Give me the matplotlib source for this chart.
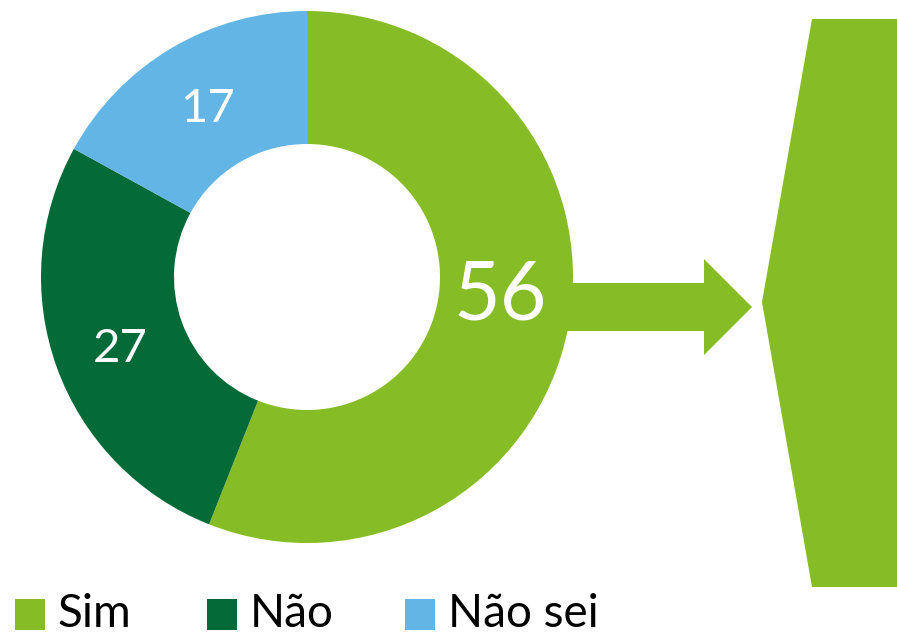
import matplotlib
matplotlib.use("Agg")
import matplotlib.pyplot as plt
from matplotlib.patches import Polygon, Rectangle
import numpy as np

categories = ["Sim", "Não", "Não sei"]
values = [56, 27, 17]
colors = ["#86BC25", "#046A38", "#62B5E5"]

W, H = 897, 637
plt.rcParams['font.family'] = ['Lato', 'DejaVu Sans']

fig = plt.figure(figsize=(W / 100, H / 100), dpi=100)
ax = fig.add_axes([0, 0, 1, 1])

def py(y):
    return H - y

cx, cy, R = 307, py(277), 266
wedges, _ = ax.pie(values, colors=colors, startangle=90, counterclock=False,
                   center=(cx, cy), radius=R, frame=True,
                   wedgeprops=dict(width=133, linewidth=0))

# labels at wedge mid-angles
label_r = 200
sizes = [58, 34, 34]
offsets = [(-3, 18), (1, -4), (2, -4)]
for w, v, fs, (ox, oy) in zip(wedges, values, sizes, offsets):
    ang = np.deg2rad((w.theta1 + w.theta2) / 2)
    x = cx + label_r * np.cos(ang) + ox
    y = cy + label_r * np.sin(ang) + oy
    ax.text(x, y, str(v), color="white", fontsize=fs, ha="center", va="center", zorder=5)

# arrow
arrow = [(565, py(283)), (704, py(283)), (704, py(259)), (752, py(307)),
         (704, py(355)), (704, py(331)), (565, py(331))]
ax.add_patch(Polygon(arrow, closed=True, facecolor=colors[0], edgecolor="none", zorder=1))

# right shape
shape = [(812, py(19)), (897, py(19)), (897, py(587)), (812, py(587)), (762, py(302))]
ax.add_patch(Polygon(shape, closed=True, facecolor=colors[0], edgecolor="none", zorder=1))

# legend
leg_x = [15, 207, 405]
for lx, c, lab in zip(leg_x, colors, categories):
    ax.add_patch(Rectangle((lx, py(630)), 30, 31, facecolor=c, edgecolor="none"))
    ax.text(lx + 43, py(627), lab, fontsize=33, ha="left", va="baseline", color="black")

ax.set_xlim(0, W)
ax.set_ylim(0, H)
ax.set_aspect("auto")
ax.axis("off")
fig.savefig("out.png", dpi=100)
